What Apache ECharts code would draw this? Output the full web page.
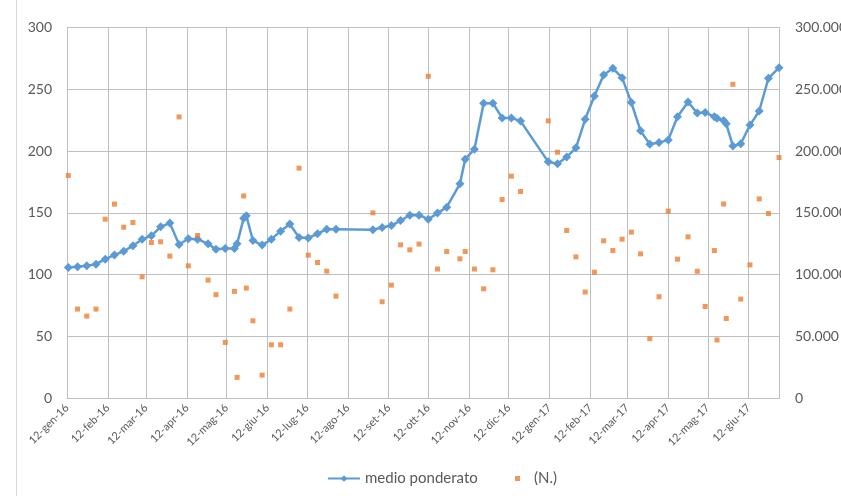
<!DOCTYPE html>
<html>
<head>
<meta charset="utf-8">
<script src="https://cdn.jsdelivr.net/npm/echarts@6/dist/echarts.min.js"></script>
<style>
  html, body { margin: 0; padding: 0; background: #ffffff; }
  #chart { width: 841px; height: 496px; }
</style>
</head>
<body>
<div id="chart"></div>
<script>
// Observation days, counted from 12 Jan 2016
const days = [1, 8, 15, 22, 29, 36, 43, 50, 57, 64, 71, 78, 85, 92, 99, 107, 113, 120, 127, 129,
  134, 136, 141, 148, 155, 162, 169, 176, 183, 190, 197, 204, 232, 239, 246, 253, 260, 267, 274, 281,
  288, 298, 302, 309, 316, 323, 330, 337, 344, 365, 372, 379, 386, 393, 400, 407, 414, 421, 428, 435,
  442, 449, 456, 463, 471, 478, 484, 491, 493, 498, 500, 505, 511, 518, 525, 532, 540];

// Weighted average (left axis)
const medioPonderato = [105.7, 106.2, 107.0, 108.4, 112.4, 115.7, 118.9, 123.2, 128.6, 131.3,
  138.6, 141.6, 124.3, 128.9, 128.6, 124.8, 120.5, 121.0, 121.0, 124.8,
  145.6, 147.5, 127.5, 123.8, 128.6, 135.1, 140.8, 129.9, 129.6, 133.0,
  136.7, 136.7, 136.2, 138.0, 139.6, 143.7, 148.0, 148.0, 144.8, 149.7,
  154.5, 173.4, 193.4, 201.5, 238.7, 238.7, 226.8, 226.8, 224.2, 191.2,
  189.6, 195.1, 202.6, 225.7, 244.6, 261.6, 267.0, 259.4, 239.2, 216.3,
  205.5, 206.8, 209.0, 227.8, 239.7, 230.7, 231.1, 227.8, 226.5, 224.6,
  222.0, 204.1, 205.9, 221.0, 232.4, 258.9, 267.5];

// Count (right axis)
const numero = [180.1, 72.0, 66.3, 72.0, 144.8, 157.0, 138.3, 142.1, 98.1, 125.9,
  126.5, 114.9, 227.6, 107.0, 131.6, 95.5, 83.7, 45.0, 86.3, 16.7,
  163.6, 89.0, 62.5, 18.5, 43.1, 43.1, 72.0, 186.1, 115.7, 109.7,
  102.7, 82.5, 149.9, 77.9, 91.4, 124.0, 120.0, 124.6, 260.5, 104.4,
  118.6, 112.7, 118.6, 104.4, 88.4, 103.8, 160.7, 179.6, 167.2, 224.4,
  199.0, 135.6, 114.3, 85.8, 101.9, 127.3, 119.4, 128.6, 134.3, 116.7,
  48.0, 82.0, 151.3, 112.4, 130.5, 102.6, 74.1, 119.4, 47.0, 157.1,
  64.4, 254.0, 80.1, 107.8, 161.2, 149.4, 194.7];

// Monthly ticks on the 12th
const tickDays = [0, 31, 60, 91, 121, 152, 182, 213, 244, 274, 305, 335, 366, 397, 425, 456, 486, 517];
const tickLabels = ['12-gen-16', '12-feb-16', '12-mar-16', '12-apr-16', '12-mag-16', '12-giu-16',
  '12-lug-16', '12-ago-16', '12-set-16', '12-ott-16', '12-nov-16', '12-dic-16',
  '12-gen-17', '12-feb-17', '12-mar-17', '12-apr-17', '12-mag-17', '12-giu-17'];

const lastDay = 540;
const gridColor = '#bfbfbf';
const textColor = '#595959';
const fontFamily = 'Lato, "Open Sans", sans-serif';

const chart = echarts.init(document.getElementById('chart'), null, { renderer: 'canvas' });

chart.setOption({
  animation: false,
  backgroundColor: '#ffffff',
  grid: { left: 67, right: 62, top: 27.5, bottom: 98, containLabel: false, outerBoundsMode: 'none' },
  graphic: [{
    type: 'line',
    shape: { x1: 16.5, y1: 0, x2: 16.5, y2: 496 },
    style: { stroke: '#d9d9d9', lineWidth: 1 },
    silent: true
  }],
  legend: [{
    data: ['medio ponderato'],
    left: 322, top: 466,
    itemWidth: 32, itemHeight: 8,
    textStyle: { color: textColor, fontSize: 15, fontFamily: fontFamily }
  }, {
    data: ['(N.)'],
    left: 510, top: 466,
    itemWidth: 5, itemHeight: 5,
    textStyle: { color: textColor, fontSize: 15, fontFamily: fontFamily, padding: [0, 0, 0, 9] }
  }],
  xAxis: {
    type: 'value',
    min: 0,
    max: lastDay,
    axisLine: { show: true, lineStyle: { color: gridColor, width: 1 } },
    axisTick: { show: false, customValues: tickDays },
    splitLine: { show: true, lineStyle: { color: gridColor, width: 1 } },
    axisLabel: {
      customValues: tickDays,
      rotate: 45,
      margin: 8,
      color: textColor,
      fontSize: 11,
      fontFamily: fontFamily,
      formatter: function (v) {
        const i = tickDays.indexOf(Math.round(v));
        return i >= 0 ? tickLabels[i] : '';
      }
    }
  },
  yAxis: [{
    type: 'value',
    min: 0, max: 300, interval: 50,
    axisLine: { show: true, lineStyle: { color: gridColor } },
    axisTick: { show: false },
    splitLine: { show: true, lineStyle: { color: gridColor, width: 1 } },
    axisLabel: { color: textColor, fontSize: 14, fontFamily: fontFamily, margin: 15 }
  }, {
    type: 'value',
    min: 0, max: 300, interval: 50,
    position: 'right',
    axisLine: { show: true, lineStyle: { color: gridColor } },
    axisTick: { show: false },
    splitLine: { show: false },
    axisLabel: {
      color: textColor, fontSize: 14, fontFamily: fontFamily, margin: 16,
      formatter: function (v) { return v === 0 ? '0' : v.toFixed(3); }
    }
  }],
  series: [{
    name: 'medio ponderato',
    type: 'line',
    yAxisIndex: 0,
    data: days.map(function (d, i) { return [d, medioPonderato[i]]; }),
    symbol: 'diamond',
    symbolSize: 9,
    showAllSymbol: true,
    lineStyle: { color: '#5b9bd5', width: 2.5 },
    itemStyle: { color: '#5b9bd5' },
    z: 3
  }, {
    name: '(N.)',
    type: 'scatter',
    yAxisIndex: 1,
    data: days.map(function (d, i) { return [d, numero[i]]; }),
    symbol: 'rect',
    symbolSize: 5,
    itemStyle: { color: '#ed7d31' },
    z: 4
  }]
});
</script>
</body>
</html>
